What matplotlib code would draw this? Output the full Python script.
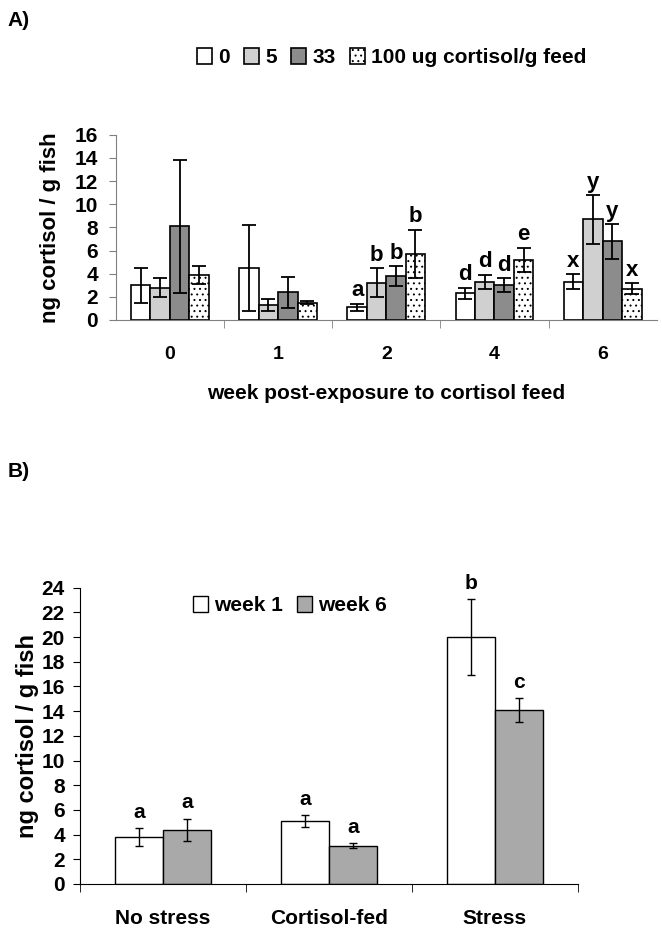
import numpy as np
import matplotlib
matplotlib.use("Agg")
import matplotlib.pyplot as plt

plt.rcParams.update({
    "font.family": ["Liberation Sans", "DejaVu Sans"],
    "font.weight": "bold",
    "hatch.linewidth": 0.7,
})

# ---- Panel A data ----
weeks = ["0", "1", "2", "4", "6"]
doses = ["0", "5", "33", "100 ug cortisol/g feed"]
a_mean = {
    "0":   [3.0, 4.5, 1.1, 2.3, 3.3],
    "5":   [2.8, 1.3, 3.2, 3.3, 8.7],
    "33":  [8.1, 2.4, 3.8, 3.0, 6.8],
    "100": [3.9, 1.5, 5.7, 5.2, 2.7],
}
a_err = {
    "0":   [1.5, 3.7, 0.3, 0.5, 0.65],
    "5":   [0.8, 0.5, 1.25, 0.6, 2.1],
    "33":  [5.75, 1.35, 0.85, 0.6, 1.5],
    "100": [0.8, 0.1, 2.1, 1.05, 0.5],
}
a_letters = {
    "0":   ["", "", "a", "d", "x"],
    "5":   ["", "", "b", "d", "y"],
    "33":  ["", "", "b", "d", "y"],
    "100": ["", "", "b", "e", "x"],
}

# ---- Panel B data ----
conditions = ["No stress", "Cortisol-fed", "Stress"]
b_week1 = [3.8, 5.1, 20.0]
b_week1_err = [0.7, 0.45, 3.1]
b_week6 = [4.4, 3.1, 14.1]
b_week6_err = [0.9, 0.2, 0.95]
b_letters1 = ["a", "a", "b"]
b_letters6 = ["a", "a", "c"]

fig = plt.figure(figsize=(6.62, 9.30), dpi=100)

# ================= Panel A =================
ax = fig.add_axes([0.175, 0.656, 0.817, 0.199])
x = np.arange(len(weeks))
w = 0.18
styles = [
    dict(facecolor="white", hatch=None),
    dict(facecolor="#d0d0d0", hatch=None),
    dict(facecolor="#8c8c8c", hatch=None),
    dict(facecolor="white", hatch="..."),
]
keys = ["0", "5", "33", "100"]
for i, k in enumerate(keys):
    pos = x + (i - 1.5) * w
    ax.bar(pos, a_mean[k], w, edgecolor="black", linewidth=1.2,
           label=doses[i], **styles[i])
    ax.errorbar(pos, a_mean[k], yerr=a_err[k], fmt="none", ecolor="black",
                elinewidth=1.3, capsize=5, capthick=1.3)
    for p, m, e, t in zip(pos, a_mean[k], a_err[k], a_letters[k]):
        if t:
            ax.text(p, m + e + 0.2, t, ha="center", va="bottom",
                    fontsize=16, fontweight="bold")

ax.set_xlim(-0.5, len(weeks) - 0.5)
ax.set_ylim(0, 16)
ax.set_yticks(np.arange(0, 17, 2))
ax.set_xticks(x)
ax.set_xticklabels(weeks)
ax.set_xticks(np.arange(0.5, len(weeks) - 0.5, 1), minor=True)
ax.tick_params(axis="x", which="major", length=0, pad=19, labelsize=14)
ax.tick_params(axis="x", which="minor", length=6, color="#808080")
ax.tick_params(axis="y", length=5, pad=8, color="#808080", labelsize=15)
for s in ["top", "right"]:
    ax.spines[s].set_visible(False)
for s in ["left", "bottom"]:
    ax.spines[s].set_color("#808080")
ax.set_ylabel("ng cortisol / g fish", fontsize=16, fontweight="bold", labelpad=10)
ax.set_xlabel("week post-exposure to cortisol feed", fontsize=15,
              fontweight="bold", labelpad=15)
ax.legend(loc="lower center", bbox_to_anchor=(0.51, 1.32), ncol=4, frameon=False,
          fontsize=15, handlelength=0.7, handleheight=0.8, handletextpad=0.3,
          columnspacing=0.7, borderaxespad=0)

fig.text(0.012, 0.988, "A)", fontsize=15, fontweight="bold", va="top")

# ================= Panel B =================
bx = fig.add_axes([0.121, 0.0495, 0.752, 0.3185])
xb = np.arange(len(conditions))
wb = 0.29
bx.bar(xb - wb / 2, b_week1, wb, facecolor="white", edgecolor="black",
       linewidth=1.0, label="week 1")
bx.bar(xb + wb / 2, b_week6, wb, facecolor="#a9a9a9", edgecolor="black",
       linewidth=1.0, label="week 6")
bx.errorbar(xb - wb / 2, b_week1, yerr=b_week1_err, fmt="none", ecolor="black",
            elinewidth=1.0, capsize=3, capthick=1.0)
bx.errorbar(xb + wb / 2, b_week6, yerr=b_week6_err, fmt="none", ecolor="black",
            elinewidth=1.0, capsize=3, capthick=1.0)
for p, m, e, t in zip(xb - wb / 2, b_week1, b_week1_err, b_letters1):
    bx.text(p, m + e + 0.5, t, ha="center", va="bottom", fontsize=15,
            fontweight="bold", clip_on=False)
for p, m, e, t in zip(xb + wb / 2, b_week6, b_week6_err, b_letters6):
    bx.text(p, m + e + 0.5, t, ha="center", va="bottom", fontsize=15,
            fontweight="bold", clip_on=False)

bx.set_xlim(-0.5, len(conditions) - 0.5)
bx.set_ylim(0, 24)
bx.set_yticks(np.arange(0, 25, 2))
bx.set_xticks(xb)
bx.set_xticklabels(conditions)
bx.set_xticks(np.arange(-0.5, len(conditions), 1), minor=True)
bx.tick_params(axis="x", which="major", length=0, pad=18, labelsize=15)
bx.tick_params(axis="x", which="minor", length=6)
bx.tick_params(axis="y", length=5, pad=6, labelsize=15)
for s in ["top", "right"]:
    bx.spines[s].set_visible(False)
bx.set_ylabel("ng cortisol / g fish", fontsize=17, fontweight="bold", labelpad=2)
bx.legend(loc="upper left", bbox_to_anchor=(0.21, 1.0), ncol=2, frameon=False,
          fontsize=15, handlelength=0.7, handleheight=0.8, handletextpad=0.3,
          columnspacing=0.7, borderaxespad=0)

fig.text(0.012, 0.503, "B)", fontsize=15, fontweight="bold", va="top")

fig.savefig("out.png", dpi=100)
